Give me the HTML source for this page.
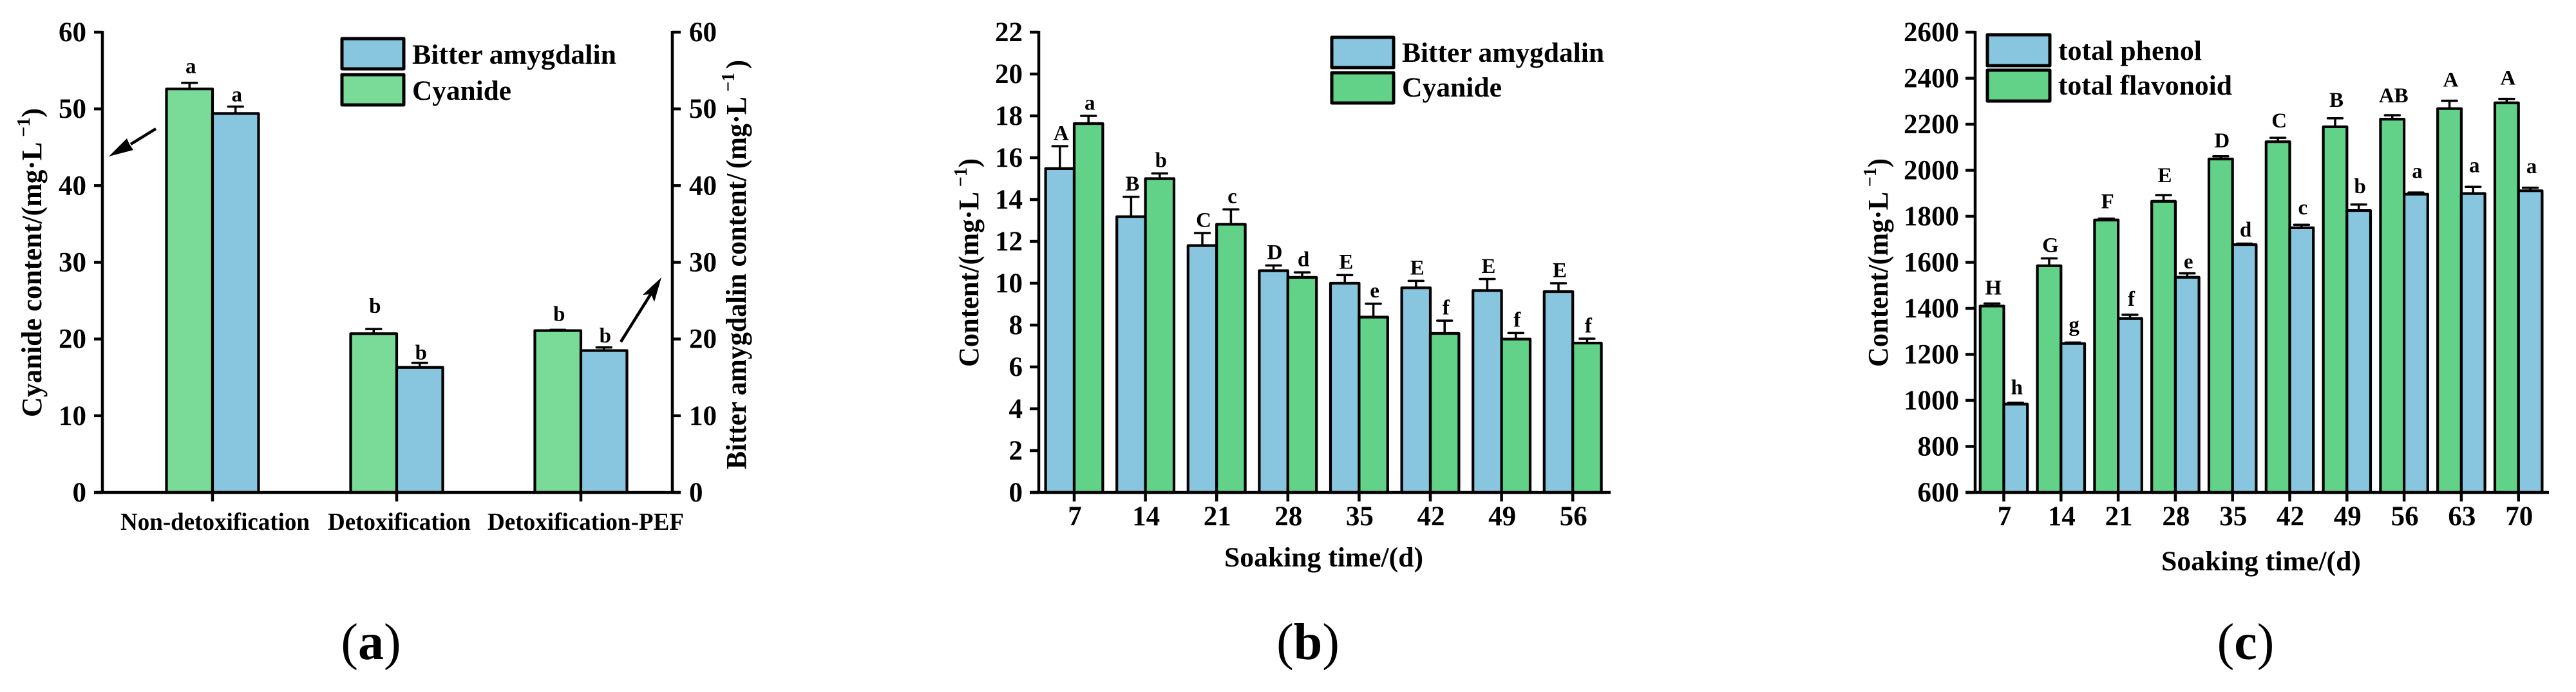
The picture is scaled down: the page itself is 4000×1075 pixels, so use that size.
<!DOCTYPE html>
<html lang="en">
<head>
<meta charset="utf-8">
<title>Cyanide, amygdalin, phenol and flavonoid content charts</title>
<style>
html,body{margin:0;padding:0;background:#fff;}
body{width:4000px;height:1075px;overflow:hidden;}
svg{display:block;}
text{font-family:"Liberation Serif","Noto Serif CJK SC",serif;font-weight:bold;fill:#000;}
.cap{font-weight:normal;}
</style>
</head>
<body>
<svg id="figure" xmlns="http://www.w3.org/2000/svg" width="4000" height="1075" viewBox="0 0 4000 1075">
  <rect x="0" y="0" width="4000" height="1075" fill="#ffffff"/>

  <g id="panel-a">
    <text transform="translate(64,648) rotate(-90)" font-size="44" textLength="480" lengthAdjust="spacingAndGlyphs">Cyanide content/(mg·L<tspan font-size="29" dx="8" dy="-18">−1</tspan><tspan dy="18">)</tspan></text>
    <text transform="translate(1158,729) rotate(-90)" font-size="44" textLength="636" lengthAdjust="spacingAndGlyphs">Bitter amygdalin content/<tspan dx="8">(mg·L</tspan><tspan font-size="29" dx="8" dy="-18">−1</tspan><tspan dx="6" dy="18">)</tspan></text>
    <rect x="531" y="60" width="96" height="47" fill="#88C6DF" stroke="#000" stroke-width="5" stroke-linejoin="round"/>
    <text x="640" y="99" font-size="43" textLength="317" lengthAdjust="spacingAndGlyphs">Bitter amygdalin</text>
    <rect x="531" y="116" width="96" height="47" fill="#7ADB99" stroke="#000" stroke-width="5" stroke-linejoin="round"/>
    <text x="640" y="155" font-size="43" textLength="154" lengthAdjust="spacingAndGlyphs">Cyanide</text>
    <g>
      <line x1="242" y1="200" x2="203" y2="224" stroke="#000" stroke-width="4.5"/>
      <polygon points="169,243 197,215 201,224 207,233" fill="#000"/>
    </g>
    <g>
      <line x1="964" y1="531" x2="1011" y2="456" stroke="#000" stroke-width="4.5"/>
      <polygon points="1027,431 1016,469 1011,457 998,458" fill="#000"/>
    </g>
    <text x="576" y="1024" font-size="80" text-anchor="middle" class="cap">(<tspan font-weight="bold">a</tspan>)</text>
  </g>

  <g id="panel-b">
    <text transform="translate(1519,570) rotate(-90)" font-size="44" textLength="324" lengthAdjust="spacingAndGlyphs">Content/(mg·L<tspan font-size="29" dx="8" dy="-18">−1</tspan><tspan dy="18">)</tspan></text>
    <text x="1901" y="880" font-size="43" textLength="309" lengthAdjust="spacingAndGlyphs">Soaking time/(d)</text>
    <rect x="2068" y="58" width="96" height="47" fill="#88C6DF" stroke="#000" stroke-width="5" stroke-linejoin="round"/>
    <text x="2177" y="96" font-size="43" textLength="314" lengthAdjust="spacingAndGlyphs">Bitter amygdalin</text>
    <rect x="2068" y="113" width="96" height="47" fill="#62D289" stroke="#000" stroke-width="5" stroke-linejoin="round"/>
    <text x="2177" y="150" font-size="43" textLength="155" lengthAdjust="spacingAndGlyphs">Cyanide</text>
    <text x="2031" y="1024" font-size="80" text-anchor="middle" class="cap">(<tspan font-weight="bold">b</tspan>)</text>
  </g>

  <g id="panel-c">
    <text transform="translate(2931,570) rotate(-90)" font-size="44" textLength="324" lengthAdjust="spacingAndGlyphs">Content/(mg·L<tspan font-size="29" dx="8" dy="-18">−1</tspan><tspan dy="18">)</tspan></text>
    <text x="3356" y="886" font-size="43" textLength="310" lengthAdjust="spacingAndGlyphs">Soaking time/(d)</text>
    <rect x="3086" y="54" width="97" height="48" fill="#88C6DF" stroke="#000" stroke-width="5" stroke-linejoin="round"/>
    <text x="3196" y="93" font-size="43" textLength="223" lengthAdjust="spacingAndGlyphs">total phenol</text>
    <rect x="3086" y="109" width="97" height="48" fill="#62D289" stroke="#000" stroke-width="5" stroke-linejoin="round"/>
    <text x="3196" y="147" font-size="43" textLength="270" lengthAdjust="spacingAndGlyphs">total flavonoid</text>
    <text x="3487" y="1024" font-size="80" text-anchor="middle" class="cap">(<tspan font-weight="bold">c</tspan>)</text>
  </g>
</svg>

<script>
// ---------- Panel (a) data ----------
const aCategories = ["Non-detoxification", "Detoxification", "Detoxification-PEF"];
const aCyanide = [52.6, 20.7, 21.1];
const aCyanideErrTop = [53.4, 21.3, 21.2];
const aCyanideLetters = ["a", "b", "b"];
const aCyanideLetterLift = [1.26, 2.1, 1.17];
const aAmygdalin = [49.4, 16.3, 18.5];
const aAmygdalinErrTop = [50.3, 16.9, 18.9];
const aAmygdalinLetters = ["a", "b", "b"];
const aAmygdalinLetterLift = [0.67, 0.42, 0.67];
const aTicks = [0, 10, 20, 30, 40, 50, 60];

// ---------- Panel (b) data ----------
const bCategories = ["7", "14", "21", "28", "35", "42", "49", "56"];
const bAmygdalin = [15.48, 13.18, 11.8, 10.6, 10.0, 9.78, 9.65, 9.6];
const bAmygdalinErrTop = [16.55, 14.13, 12.4, 10.85, 10.39, 10.11, 10.2, 10.0];
const bAmygdalinLetters = ["A", "B", "C", "D", "E", "E", "E", "E"];
const bCyanide = [17.63, 15.0, 12.82, 10.28, 8.38, 7.6, 7.33, 7.14];
const bCyanideErrTop = [18.0, 15.25, 13.53, 10.52, 9.02, 8.21, 7.62, 7.35];
const bCyanideLetters = ["a", "b", "c", "d", "e", "f", "f", "f"];
const bTicks = [0, 2, 4, 6, 8, 10, 12, 14, 16, 18, 20, 22];

// ---------- Panel (c) data ----------
const cCategories = ["7", "14", "21", "28", "35", "42", "49", "56", "63", "70"];
const cFlavonoid = [1410, 1585, 1784, 1865, 2049, 2124, 2189, 2222, 2268, 2293];
const cFlavonoidErrTop = [1421, 1617, 1790, 1892, 2061, 2141, 2226, 2239, 2302, 2310];
const cFlavonoidLetters = ["H", "G", "F", "E", "D", "C", "B", "AB", "A", "A"];
const cFlavonoidLetterLift = [39, 28, 45, 56, 39, 45, 50, 56, 62, 62];
const cPhenol = [984, 1247, 1356, 1535, 1677, 1750, 1825, 1896, 1899, 1911];
const cPhenolErrTop = [990, 1251, 1372, 1552, 1681, 1763, 1851, 1903, 1928, 1924];
const cPhenolLetters = ["h", "g", "f", "e", "d", "c", "b", "a", "a", "a"];
const cPhenolLetterLift = [36, 48, 39, 22, 31, 45, 50, 64, 64, 64];
const cTicks = [600, 800, 1000, 1200, 1400, 1600, 1800, 2000, 2200, 2400, 2600];

const BLUE = "#88C6DF";
const GREEN_LIGHT = "#7ADB99";
const GREEN = "#62D289";
const NS = "http://www.w3.org/2000/svg";

function svgEl(parent, tag, attrs, content) {
  const el = document.createElementNS(NS, tag);
  Object.keys(attrs).forEach(function (k) { el.setAttribute(k, attrs[k]); });
  if (content !== undefined) el.textContent = content;
  parent.appendChild(el);
  return el;
}

function linear(d0, d1, r0, r1) {
  return function (v) { return r0 + (v - d0) * (r1 - r0) / (d1 - d0); };
}

function drawAxes(g, cfg) {
  const y = cfg.y, axisY = y(cfg.ticks[0]);
  const top = y(cfg.ticks[cfg.ticks.length - 1]);

  const yAxis = svgEl(g, "line", {x1: cfg.axisX, x2: cfg.axisX, y1: top - 2, y2: axisY, stroke: "#000", "stroke-width": 4.5});
  
  

  const xAxis = svgEl(g, "line", {x1: cfg.axisX - cfg.tickLen, x2: cfg.xEnd, y1: axisY, y2: axisY, stroke: "#000", "stroke-width": 4.5});
  
  

  cfg.ticks.forEach(function (t) {
    const tick = svgEl(g, "line", {x1: cfg.axisX - cfg.tickLen, x2: cfg.axisX, y1: y(t), y2: y(t), stroke: "#000", "stroke-width": 4.5});
    
    
    const label = svgEl(g, "text", {x: cfg.axisX - 25, y: y(t) + 14, "font-size": 43, "text-anchor": "end"}, String(t));
    
    
  });

  if (cfg.rightAxisX) {
    const rAxis = svgEl(g, "line", {x1: cfg.rightAxisX, x2: cfg.rightAxisX, y1: top - 2, y2: axisY, stroke: "#000", "stroke-width": 4.5});
    
    
    cfg.ticks.forEach(function (t) {
      const tick = svgEl(g, "line", {x1: cfg.rightAxisX, x2: cfg.rightAxisX + cfg.tickLen, y1: y(t), y2: y(t), stroke: "#000", "stroke-width": 4.5});
      
      
      const label = svgEl(g, "text", {x: cfg.rightAxisX + 26, y: y(t) + 14, "font-size": 43}, String(t));
      
      
    });
  }

  cfg.categories.forEach(function (c, i) {
    const cx = cfg.x(i);
    const tick = svgEl(g, "line", {x1: cx, x2: cx, y1: axisY, y2: axisY + 14, stroke: "#000", "stroke-width": 4.5});
    
    
    if (!cfg.catLabel) {
      const label = svgEl(g, "text", {x: cx + 1, y: cfg.catY, "font-size": 43, "text-anchor": "middle"}, c);
      
      
    }
  });
}

function drawSeries(g, cfg, s) {
  const y = cfg.y, base = y(cfg.ticks[0]);
  s.values.forEach(function (v, i) {
    const left = cfg.x(i) + (s.side < 0 ? -cfg.barW : 0);
    const mid = left + cfg.barW / 2;

    const errLine = svgEl(g, "line", {x1: mid, x2: mid, y1: y(v), y2: y(s.err[i]), stroke: "#000", "stroke-width": 3.5});
    
    

    const errCap = svgEl(g, "line", {x1: mid - 11.5, x2: mid + 11.5, y1: y(s.err[i]), y2: y(s.err[i]), stroke: "#000", "stroke-width": 3.5, "stroke-linecap": "round"});
    
    

    const bar = svgEl(g, "rect", {x: left, y: y(v), width: cfg.barW, height: base - y(v), fill: s.color, stroke: "#000", "stroke-width": 4.2, "stroke-linejoin": "round"});
    
    

    const lift = s.lift ? s.lift[i] : cfg.defaultLift;
    const letter = svgEl(g, "text", {x: mid + 2, y: y(s.err[i] + lift), "font-size": 33, "text-anchor": "middle"}, s.letters[i]);
    
    
  });
}

// Panel (a)
(function () {
  const g = document.getElementById("panel-a");
  const cfg = {
    y: linear(0, 60, 765, 50),
    x: function (i) { return 330 + i * 286; },
    ticks: aTicks, categories: aCategories,
    axisX: 159, rightAxisX: 1044, xEnd: 1057, tickLen: 13,
    barW: 71.5, catLabel: true, defaultLift: 0
  };
  drawSeries(g, cfg, {name: "cyanide", values: aCyanide, err: aCyanideErrTop, letters: aCyanideLetters, lift: aCyanideLetterLift, color: GREEN_LIGHT, side: -1});
  drawSeries(g, cfg, {name: "bitter-amygdalin", values: aAmygdalin, err: aAmygdalinErrTop, letters: aAmygdalinLetters, lift: aAmygdalinLetterLift, color: BLUE, side: 1});
  drawAxes(g, cfg);
  const spans = [[187, 294], [509, 222], [757, 305]];
  aCategories.forEach(function (c, i) {
    const label = svgEl(g, "text", {x: spans[i][0], y: 823, "font-size": 38, textLength: spans[i][1], lengthAdjust: "spacingAndGlyphs"}, c);
    
    
  });
})();

// Panel (b)
(function () {
  const g = document.getElementById("panel-b");
  const cfg = {
    y: linear(0, 22, 765, 50),
    x: function (i) { return 1668 + i * 110.6; },
    ticks: bTicks, categories: bCategories,
    axisX: 1613, xEnd: 2501, tickLen: 14,
    barW: 44.4, catY: 816, defaultLift: 0.3
  };
  drawSeries(g, cfg, {name: "bitter-amygdalin", values: bAmygdalin, err: bAmygdalinErrTop, letters: bAmygdalinLetters, color: BLUE, side: -1});
  drawSeries(g, cfg, {name: "cyanide", values: bCyanide, err: bCyanideErrTop, letters: bCyanideLetters, color: GREEN, side: 1});
  drawAxes(g, cfg);
})();

// Panel (c)
(function () {
  const g = document.getElementById("panel-c");
  const cfg = {
    y: linear(600, 2600, 765, 50),
    x: function (i) { return 3111.5 + i * 88.8; },
    ticks: cTicks, categories: cCategories,
    axisX: 3067, xEnd: 3958, tickLen: 15,
    barW: 36.7, catY: 816, defaultLift: 0
  };
  drawSeries(g, cfg, {name: "total-flavonoid", values: cFlavonoid, err: cFlavonoidErrTop, letters: cFlavonoidLetters, lift: cFlavonoidLetterLift, color: GREEN, side: -1});
  drawSeries(g, cfg, {name: "total-phenol", values: cPhenol, err: cPhenolErrTop, letters: cPhenolLetters, lift: cPhenolLetterLift, color: BLUE, side: 1});
  drawAxes(g, cfg);
})();
</script>
</body>
</html>
